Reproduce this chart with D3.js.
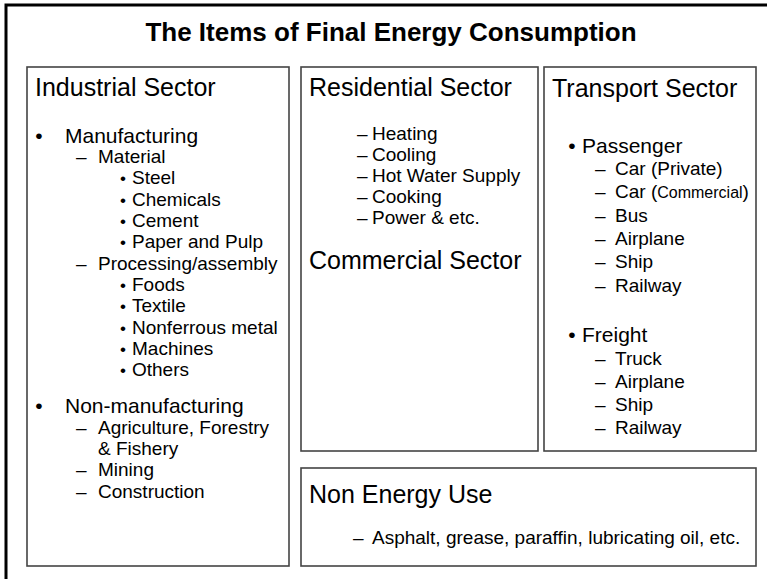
<!DOCTYPE html>
<html>
<head>
<meta charset="utf-8">
<script src="https://cdn.jsdelivr.net/npm/d3@7"></script>
<style>
  html, body { margin: 0; padding: 0; background: #fff; overflow: hidden; }
  text { font-family: "Liberation Sans", Arial, sans-serif; fill: #000; }
</style>
</head>
<body>
<svg id="chart"></svg>
<script>
const DIMENSION = { width: 767, height: 579 };

// --- content ---
const TITLE = 'The Items of Final Energy Consumption';
const SECTORS = ['Industrial Sector', 'Residential Sector', 'Commercial Sector', 'Transport Sector', 'Non Energy Use'];

const INDUSTRIAL_ITEMS = ['Manufacturing', 'Material', 'Steel', 'Chemicals', 'Cement', 'Paper and Pulp',
	'Processing/assembly', 'Foods', 'Textile', 'Nonferrous metal', 'Machines', 'Others',
	'Non-manufacturing', 'Agriculture, Forestry\n& Fishery', 'Mining', 'Construction'];
const INDUSTRIAL_LEVELS = [1, 2, 3, 3, 3, 3, 2, 3, 3, 3, 3, 3, 1, 2, 2, 2];

const RESIDENTIAL_ITEMS = ['Heating', 'Cooling', 'Hot Water Supply', 'Cooking', 'Power & etc.'];
const RESIDENTIAL_LEVELS = [2, 2, 2, 2, 2];

const TRANSPORT_ITEMS = ['Passenger', 'Car (Private)', 'Car (Commercial)', 'Bus', 'Airplane', 'Ship', 'Railway',
	'Freight', 'Truck', 'Airplane', 'Ship', 'Railway'];
const TRANSPORT_LEVELS = [1, 2, 2, 2, 2, 2, 2, 1, 2, 2, 2, 2];

const NON_ENERGY_ITEMS = ['Asphalt, grease, paraffin, lubricating oil, etc.'];
const NON_ENERGY_LEVELS = [2];

// words drawn in a smaller size inside an item
const SMALL_WORDS = ['Commercial'];

// --- layout ---
const FONT = { title: 26, head: 25, 1: 21, 2: 19, 3: 19 };
const MARKER = {
	1: { char: '\u2022', size: 21, anchor: 'middle' },
	2: { char: '\u2013', size: 19, anchor: 'start' },
	3: { char: '\u2022', size: 17, anchor: 'middle' }
};

const BOXES = {
	industrial: { x: 27, y: 67, w: 262, h: 499, head: [0], headY: [87], first: 135, step: 21.3, gap: 0.7,
		indent: { 1: [39, 65], 2: [76, 98], 3: [123, 132] } },
	residential: { x: 301, y: 67, w: 237, h: 384, head: [1, 2], headY: [87, 260], first: 132.7, step: 21, gap: 0,
		indent: { 2: [357, 372] } },
	transport: { x: 544, y: 67, w: 212, h: 384, head: [3], headY: [88], first: 145, step: 23.3, gap: 1.13,
		indent: { 1: [572, 582], 2: [595, 615] } },
	nonEnergy: { x: 301, y: 468, w: 455, h: 98, head: [4], headY: [494], first: 537, step: 21, gap: 0,
		indent: { 2: [353, 372] } }
};

const LISTS = {
	industrial: [INDUSTRIAL_ITEMS, INDUSTRIAL_LEVELS],
	residential: [RESIDENTIAL_ITEMS, RESIDENTIAL_LEVELS],
	transport: [TRANSPORT_ITEMS, TRANSPORT_LEVELS],
	nonEnergy: [NON_ENERGY_ITEMS, NON_ENERGY_LEVELS]
};

const svg = d3.select('#chart')
	.attr('width', DIMENSION.width)
	.attr('height', DIMENSION.height);

// outer frame (runs off the right and bottom edges)
svg.append('rect')
	.attr('x', 6)
	.attr('y', 5)
	.attr('width', 820)
	.attr('height', 640)
	.attr('fill', 'none')
	.attr('stroke', '#000')
	.attr('stroke-width', 3);

svg.append('text')
	.attr('x', 391)
	.attr('y', 32 + FONT.title * 0.36)
	.attr('text-anchor', 'middle')
	.attr('font-size', FONT.title)
	.attr('font-weight', 'bold')
	.text(TITLE);

// row number for every item, counting wrapped lines and the gap before top level bullets
const rowIndex = (items, levels, gap) => {
	let r = 0;
	return items.map((t, i) => {
		if (i > 0) {
			r += items[i - 1].split('\n').length;
			if (levels[i] === 1) r += gap;
		}
		return r;
	});
};

for (let key of Object.keys(BOXES)) {
	const box = BOXES[key];
	const [items, levels] = LISTS[key];
	const g = svg.append('g').attr('class', `box-${key}`);

	g.append('rect')
		.attr('x', box.x)
		.attr('y', box.y)
		.attr('width', box.w)
		.attr('height', box.h)
		.attr('fill', '#fff')
		.attr('stroke', '#444')
		.attr('stroke-width', 1.6);

	box.head.forEach((h, i) => {
		g.append('text')
			.attr('x', box.x + 8)
			.attr('y', box.headY[i] + FONT.head * 0.36)
			.attr('font-size', FONT.head)
			.text(SECTORS[h]);
	});

	const yScale = d3.scaleLinear()
		.domain([0, 1])
		.range([box.first, box.first + box.step]);
	const rows = rowIndex(items, levels, box.gap);

	items.forEach((t, i) => {
		const lv = levels[i];
		const [mx, tx] = box.indent[lv];
		const y = yScale(rows[i]);
		const m = MARKER[lv];

		g.append('text')
			.attr('x', mx)
			.attr('y', y + FONT[lv] * 0.36)
			.attr('text-anchor', m.anchor)
			.attr('font-size', m.size)
			.text(m.char);

		const label = g.append('text')
			.attr('x', tx)
			.attr('y', y + FONT[lv] * 0.36)
			.attr('font-size', FONT[lv]);

		t.split('\n').forEach((line, j) => {
			const small = SMALL_WORDS.find(w => line.includes(w));
			const first = label.append('tspan')
				.attr('x', tx)
				.attr('dy', j === 0 ? 0 : box.step);
			if (small) {
				const [a, b] = line.split(small);
				first.text(a);
				label.append('tspan').attr('font-size', 16).text(small);
				label.append('tspan').text(b);
			} else {
				first.text(line);
			}
		});
	});
}
</script>
</body>
</html>
